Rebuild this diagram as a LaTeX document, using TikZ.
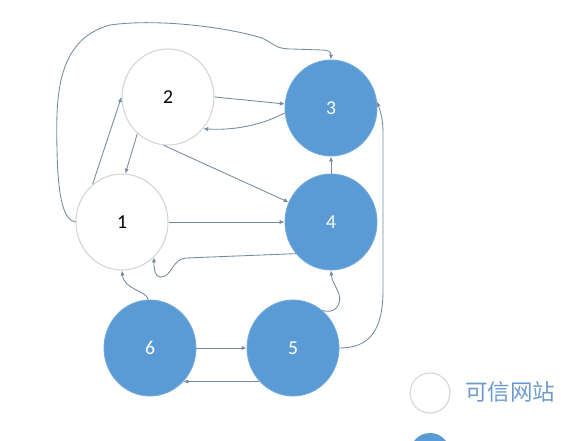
\documentclass[tikz,border=0pt]{standalone}
\usepackage{fontspec}
\setmainfont{Carlito}
\newfontfamily\cjk{Noto Sans CJK SC}
\usetikzlibrary{shapes.geometric,arrows.meta}
\definecolor{siteblue}{HTML}{5B9BD5}
\definecolor{edgegray}{HTML}{7389A0}
\definecolor{ringgray}{HTML}{D6D6D6}
\definecolor{keyblue}{HTML}{6C9BCB}

\begin{document}
\begin{tikzpicture}[x=0.025cm,y=-0.025cm,
    site/.style={ellipse,minimum width=2.3cm,minimum height=2.4cm,inner sep=0pt,
      font=\fontsize{14}{16}\selectfont},
    trusted/.style={site,draw=ringgray,line width=0.8pt,fill=white},
    spam/.style={site,draw=siteblue!85!white,line width=0.6pt,fill=siteblue,text=white},
    link/.style={draw=edgegray,line width=0.6pt,-{Latex[length=3.5pt,width=3pt]}}]%
  \useasboundingbox (0,0) rectangle (580,441);%
  \clip (0,0) rectangle (580,441);%
  % sites
  \node[trusted] (n2) at (168,97) {2};%
  \node[spam] (n3) at (331,108) {3};%
  \node[trusted] (n1) at (122,222) {1};%
  \node[spam] (n4) at (331,222) {4};%
  \node[spam] (n6) at (150,348) {6};%
  \node[spam] (n5) at (293,348) {5};%
  % links
  \draw[link] (n2.east) -- (n3.175);%
  \draw[link] (n3.186) .. controls (268,122) and (240,131) .. (n2.-42);%
  \draw[link] (n2.-130) -- (n1.86);%
  \draw[link] (n1.128) -- (n2.west);%
  \draw[link] (n2.-95) -- (n4.155);%
  \draw[link] (n1.east) -- (n4.west);%
  \draw[link] (n4.-138) -- (186,258) .. controls (172,259) and (172,277) .. (161,277)
    .. controls (155,277) and (154,270) .. (n1.-48);%
  \draw[link] (n4.north) -- (n3.south);%
  \draw[link] (n5.52) .. controls (334,314) and (342,306) .. (339,294)
    .. controls (335,284) and (332,282) .. (n4.south);%
  \draw[link] (n5.east) .. controls (370,348) and (383,330) .. (383,290)
    -- (383,135) .. controls (383,122) and (382,116) .. (n3.8);%
  \draw[link] (n6.east) -- (n5.west);%
  \draw[link] (n5.-135) -- (n6.-45);%
  \draw[link] (n6.92) .. controls (146,290) and (124,290) .. (n1.south);%
  \draw[link] (n1.west) .. controls (64,220) and (58,200) .. (57,150)
    .. controls (56,100) and (55,40) .. (110,25)
    .. controls (160,18) and (230,28) .. (262,38)
    .. controls (275,44) and (275,49) .. (292,49) -- (322,50)
    .. controls (328,50) and (331,52) .. (n3.north);%
  % key
  \node[circle,draw=ringgray,line width=0.8pt,fill=white,minimum size=1cm] (keytrust) at (430,393) {};%
  \node[font=\cjk\fontsize{16}{18}\selectfont,text=keyblue] (keytext) at (510,392) {可信网站};%
  \node[circle,fill=siteblue,minimum size=1cm] (keyspam) at (430,453) {};%
\end{tikzpicture}
\end{document}
